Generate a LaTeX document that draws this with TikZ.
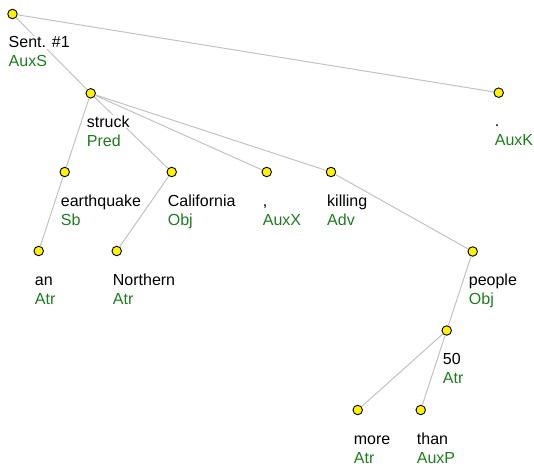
\documentclass[tikz,border=0pt]{standalone}
\usepackage{fontspec}
\setmainfont{Liberation Sans}

\definecolor{tagcolor}{rgb}{0.12,0.49,0.12}
\definecolor{edgecolor}{rgb}{0.76,0.76,0.76}

\begin{document}
\begin{tikzpicture}[x=1pt, y=-1pt,
    dot/.style={circle, draw=black, fill=yellow, line width=0.9pt, inner sep=0pt, minimum size=9.5pt},
    edge/.style={edgecolor, line width=1pt},
    word/.style={anchor=base west, fill=white, inner sep=1pt, font=\fontsize{16}{19}\selectfont},
    tag/.style={word, text=tagcolor}]
            \useasboundingbox (0,0) rectangle (534,470);

            \node[dot] (sent) at (12.5,14) {};
            \node[dot] (struck) at (90.7,93.3) {};
            \node[dot] (period) at (498.7,92.7) {};
            \node[dot] (earthquake) at (64.7,172) {};
            \node[dot] (california) at (171.7,172) {};
            \node[dot] (comma) at (266.7,172) {};
            \node[dot] (killing) at (331,172) {};
            \node[dot] (an) at (38.7,251) {};
            \node[dot] (northern) at (116.7,251) {};
            \node[dot] (people) at (472.7,251.5) {};
            \node[dot] (fifty) at (446.7,330.5) {};
            \node[dot] (more) at (357.7,410) {};
            \node[dot] (than) at (420.7,410) {};

            \draw[edge] (sent) -- (struck);
            \draw[edge] (sent) -- (period);
            \draw[edge] (struck) -- (earthquake);
            \draw[edge] (struck) -- (california);
            \draw[edge] (struck) -- (comma);
            \draw[edge] (struck) -- (killing);
            \draw[edge] (earthquake) -- (an);
            \draw[edge] (california) -- (northern);
            \draw[edge] (killing) -- (people);
            \draw[edge] (people) -- (fifty);
            \draw[edge] (fifty) -- (more);
            \draw[edge] (fifty) -- (than);

            \node[word] (sent-w) at ([shift={(-5,34)}]sent) {Sent. \#1};
            \node[tag] (sent-t) at ([shift={(-5,53)}]sent) {AuxS};
            \node[word] (struck-w) at ([shift={(-5,34)}]struck) {struck};
            \node[tag] (struck-t) at ([shift={(-5,53)}]struck) {Pred};
            \node[word] (period-w) at ([shift={(-5,34)}]period) {.};
            \node[tag] (period-t) at ([shift={(-5,53)}]period) {AuxK};
            \node[word] (earthquake-w) at ([shift={(-5,34)}]earthquake) {earthquake};
            \node[tag] (earthquake-t) at ([shift={(-5,53)}]earthquake) {Sb};
            \node[word] (california-w) at ([shift={(-5,34)}]california) {California};
            \node[tag] (california-t) at ([shift={(-5,53)}]california) {Obj};
            \node[word] (comma-w) at ([shift={(-5,34)}]comma) {,};
            \node[tag] (comma-t) at ([shift={(-5,53)}]comma) {AuxX};
            \node[word] (killing-w) at ([shift={(-5,34)}]killing) {killing};
            \node[tag] (killing-t) at ([shift={(-5,53)}]killing) {Adv};
            \node[word] (an-w) at ([shift={(-5,34)}]an) {an};
            \node[tag] (an-t) at ([shift={(-5,53)}]an) {Atr};
            \node[word] (northern-w) at ([shift={(-5,34)}]northern) {Northern};
            \node[tag] (northern-t) at ([shift={(-5,53)}]northern) {Atr};
            \node[word] (people-w) at ([shift={(-5,34)}]people) {people};
            \node[tag] (people-t) at ([shift={(-5,53)}]people) {Obj};
            \node[word] (fifty-w) at ([shift={(-5,34)}]fifty) {50};
            \node[tag] (fifty-t) at ([shift={(-5,53)}]fifty) {Atr};
            \node[word] (more-w) at ([shift={(-5,34)}]more) {more};
            \node[tag] (more-t) at ([shift={(-5,53)}]more) {Atr};
            \node[word] (than-w) at ([shift={(-5,34)}]than) {than};
            \node[tag] (than-t) at ([shift={(-5,53)}]than) {AuxP};
        \end{tikzpicture}
\end{document}
